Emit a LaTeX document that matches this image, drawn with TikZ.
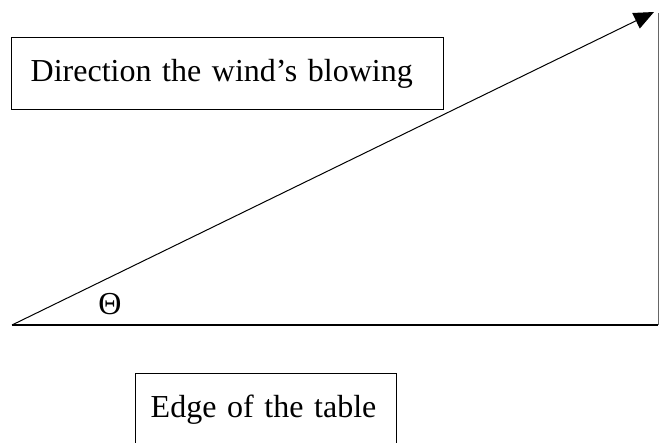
\documentclass[tikz,border=0pt]{standalone}
\usepackage{fontspec}
\setmainfont{Liberation Serif}
\usetikzlibrary{arrows.meta}

\begin{document}
\begin{tikzpicture}[
    x=1pt, y=-1pt,
    every node/.style={font=\fontsize{32}{38}\selectfont},
    textbox/.style={draw, line width=1.4pt, anchor=north west, align=left, inner xsep=19pt, inner ysep=20pt, text height=24pt},
    windline/.style={line width=1pt, -{Triangle[length=20pt, width=17pt]}},
    tableline/.style={line width=2pt}
]
\useasboundingbox (0,0) rectangle (659,443);
\clip (0,0) rectangle (659,443);
\coordinate (origin) at (12,325);
\coordinate (corner) at (658,325);
\coordinate (top) at (658,13);
\coordinate (tip) at (654,12);
\draw[tableline] (origin) -- (corner);
\draw[line width=0.8pt, black!60] (corner) -- (top);
\draw[windline] (origin) -- (tip);
\node[textbox, text width=394pt, text depth=8pt] (wind) at (11,37) {Direction the wind’s blowing};
\node[textbox, inner xsep=15pt, text width=231pt, text depth=30pt] (edge) at (135,373) {Edge of the table};
\node (theta) at (110,304) {Θ};
\end{tikzpicture}
\end{document}
